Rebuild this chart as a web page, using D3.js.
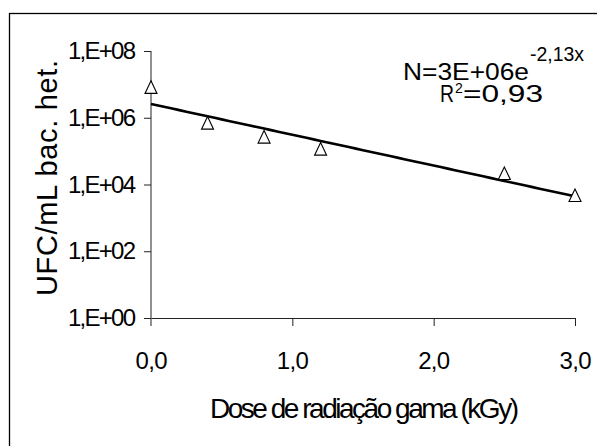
<!DOCTYPE html>
<html>
<head>
<meta charset="utf-8">
<script src="https://cdn.jsdelivr.net/npm/d3@7"></script>
<style>
  body { margin: 0; background: #fff; }
  svg { display: block; font-family: "Liberation Sans", Arial, sans-serif; }
</style>
</head>
<body>
<div id="chart"></div>
<script>
// Dose (kGy) and counts
let doses = [0, 0.4, 0.8, 1.2, 2.5, 3.0];
let counts = [8.0e6, 6.8e5, 2.6e5, 1.13e5, 2.1e4, 4.6e3];

let yTicks = [1, 1e2, 1e4, 1e6, 1e8];
let yTickLabels = ["1,E+00", "1,E+02", "1,E+04", "1,E+06", "1,E+08"];
let xTicks = [0, 1, 2, 3];
let xTickLabels = ["0,0", "1,0", "2,0", "3,0"];

let eqMain = "N=3E+06e";
let eqExp = "-2,13x";
let r2Text = "=0,93";

const W = 597, H = 446;

let svg = d3.select("#chart").append("svg")
  .attr("width", W).attr("height", H);

// outer frame (right and bottom edges fall outside the picture)
svg.append("rect")
  .attr("x", 9.5).attr("y", 13.5)
  .attr("width", 700).attr("height", 600)
  .attr("fill", "none").attr("stroke", "#000").attr("stroke-width", 1.3);

let x = d3.scaleLinear().domain([0, 3]).range([151, 575]);
let y = d3.scaleLog().domain([1, 1e8]).range([318, 51]);

// y axis
let yAxis = svg.append("g")
  .attr("transform", "translate(151,0)")
  .call(d3.axisLeft(y).tickValues(yTicks)
    .tickFormat((d, i) => yTickLabels[i])
    .tickSize(7).tickSizeOuter(0).tickPadding(8));
yAxis.select(".domain").remove();
yAxis.append("line")
  .attr("x1", 0).attr("x2", 0).attr("y1", 51).attr("y2", 326)
  .attr("stroke", "#222");
yAxis.selectAll(".tick line").attr("stroke", "#222");
yAxis.selectAll("text")
  .attr("font-size", 24).attr("fill", "#000")
  .attr("font-family", "Liberation Sans, Arial, sans-serif")
  .attr("textLength", 68);

// x axis
let xAxis = svg.append("g")
  .attr("transform", "translate(0,318)")
  .call(d3.axisBottom(x).tickValues(xTicks)
    .tickFormat((d, i) => xTickLabels[i])
    .tickSize(8).tickSizeOuter(0).tickPadding(26));
xAxis.select(".domain").attr("stroke", "#222");
xAxis.selectAll(".tick line").attr("stroke", "#222");
xAxis.selectAll(".tick").filter(d => d === 0).select("line").remove();
xAxis.selectAll("text")
  .attr("font-size", 24).attr("fill", "#000")
  .attr("font-family", "Liberation Sans, Arial, sans-serif")
  .attr("textLength", 32);

// exponential fit: least squares on ln(N)
let lnC = counts.map(c => Math.log(c));
let mx = d3.mean(doses), my = d3.mean(lnC);
let sxy = d3.sum(doses, (d, i) => (d - mx) * (lnC[i] - my));
let sxx = d3.sum(doses, d => (d - mx) * (d - mx));
let k = sxy / sxx;
let a = Math.exp(my - k * mx);

let fitPts = d3.range(0, 3.0001, 0.05);
let line = d3.line()
  .x(d => x(d))
  .y(d => y(a * Math.exp(k * d)));

svg.append("path")
  .datum(fitPts)
  .attr("d", line)
  .attr("fill", "none").attr("stroke", "#000").attr("stroke-width", 2.6);

// open triangle markers
let tri = "M0,-6.8L6,5.8L-6,5.8Z";
svg.selectAll("path.pt")
  .data(doses.map((d, i) => [d, counts[i]]))
  .enter().append("path")
    .attr("class", "pt")
    .attr("d", tri)
    .attr("transform", d => `translate(${x(d[0])},${y(d[1])})`)
    .attr("fill", "#fff").attr("stroke", "#000").attr("stroke-width", 1.1);

// equation and R²
svg.append("text")
  .attr("x", 403).attr("y", 80)
  .attr("font-size", 23)
  .attr("textLength", 126).attr("lengthAdjust", "spacingAndGlyphs")
  .text(eqMain);
svg.append("text")
  .attr("x", 530).attr("y", 61)
  .attr("font-size", 20)
  .attr("textLength", 54).attr("lengthAdjust", "spacingAndGlyphs")
  .text(eqExp);
svg.append("text")
  .attr("x", 440).attr("y", 101.5)
  .attr("font-size", 23)
  .attr("textLength", 14).attr("lengthAdjust", "spacingAndGlyphs")
  .text("R");
svg.append("text")
  .attr("x", 455).attr("y", 93)
  .attr("font-size", 14)
  .text("2");
svg.append("text")
  .attr("x", 463).attr("y", 101.5)
  .attr("font-size", 23)
  .attr("textLength", 80).attr("lengthAdjust", "spacingAndGlyphs")
  .text(r2Text);

// axis titles
svg.append("text")
  .attr("x", 364.5).attr("y", 418)
  .attr("text-anchor", "middle")
  .attr("font-size", 28)
  .attr("textLength", 309)
  .text("Dose de radiação gama (kGy)");

svg.append("text")
  .attr("transform", "translate(57,178) rotate(-90)")
  .attr("text-anchor", "middle")
  .attr("font-size", 29)
  .attr("textLength", 236)
  .text("UFC/mL bac. het.");
</script>
</body>
</html>
